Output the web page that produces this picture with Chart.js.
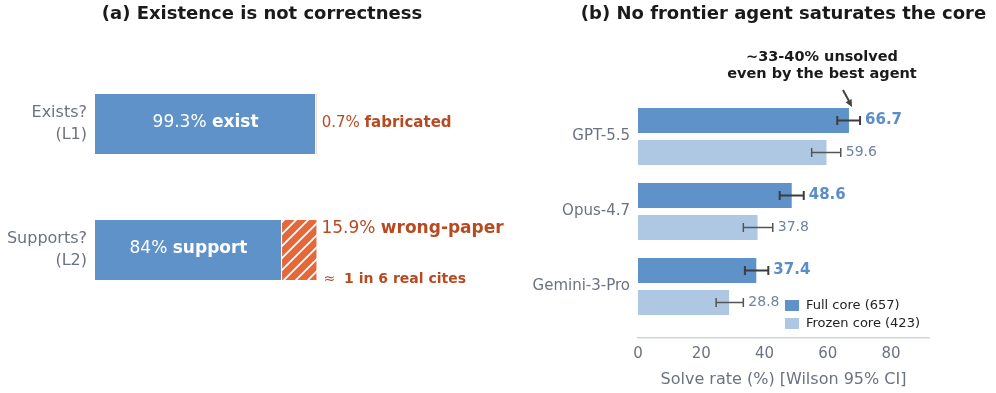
<!DOCTYPE html>
<html>
<head>
<meta charset="utf-8">
<script src="https://cdn.jsdelivr.net/npm/chart.js@4.4.1/dist/chart.umd.min.js"></script>
<style>
  html, body { margin: 0; padding: 0; background: #fff; }
  #left { position: absolute; left: 0; top: 0; width: 520px; height: 393px; }
  #right { position: absolute; left: 520px; top: 0; width: 476px; height: 393px; }
</style>
</head>
<body>
<div id="left"><canvas id="chartA"></canvas></div>
<div id="right"><canvas id="chartB"></canvas></div>
<script>
// panel (a)
const checkLabels = [['Exists?', '(L1)'], ['Supports?', '(L2)']];
const goodShare = [99.3, 84];
const badShare = [0.7, 15.9];
const goodWords = ['exist', 'support'];
const badWords = ['fabricated', 'wrong-paper'];

// panel (b)
const agents = ['GPT-5.5', 'Opus-4.7', 'Gemini-3-Pro'];
const fullRate = [66.7, 48.6, 37.4];
const fullLow = [63.0, 44.8, 33.8];
const fullHigh = [70.2, 52.4, 41.2];
const frozenRate = [59.6, 37.8, 28.8];
const frozenLow = [54.9, 33.3, 24.7];
const frozenHigh = [64.1, 42.6, 33.3];
const xTicks = [0, 20, 40, 60, 80];

const FONT = '"DejaVu Sans", Verdana, sans-serif';
const BLUE = '#5f92c8';
const LIGHT = '#aec8e4';
const ORANGE = '#e5683b';
const RUST = '#b84a22';
const GRAY = '#6b7280';

Chart.defaults.font.family = FONT;
Chart.defaults.color = GRAY;

function makeHatch(color) {
  const n = 12;
  const c = document.createElement('canvas');
  c.width = n; c.height = n;
  const g = c.getContext('2d');
  g.fillStyle = color;
  g.fillRect(0, 0, n, n);
  g.strokeStyle = '#fff';
  g.lineWidth = 1.7;
  g.beginPath();
  g.moveTo(-1, n + 1); g.lineTo(n + 1, -1);
  g.moveTo(-n / 2 - 1, n / 2 + 1); g.lineTo(n / 2 + 1, -n / 2 - 1);
  g.moveTo(n / 2 - 1, n * 1.5 + 1); g.lineTo(n * 1.5 + 1, n / 2 - 1);
  g.stroke();
  return g.createPattern(c, 'repeat');
}

// draw [text, bold] pieces one after another
function drawRuns(ctx, runs, x, y, size, color, align) {
  ctx.save();
  ctx.fillStyle = color;
  ctx.textBaseline = 'middle';
  ctx.textAlign = 'left';
  let total = 0;
  const widths = runs.map(r => {
    ctx.font = (r[1] ? 'bold ' : '') + size + 'px ' + FONT;
    const w = ctx.measureText(r[0]).width;
    total += w;
    return w;
  });
  let cx = align === 'center' ? x - total / 2 : x;
  runs.forEach((r, i) => {
    ctx.font = (r[1] ? 'bold ' : '') + size + 'px ' + FONT;
    ctx.fillText(r[0], cx, y);
    cx += widths[i];
  });
  ctx.restore();
}

// panel title centred over the axes, allowed to overflow them
const panelTitle = {
  id: 'panelTitle',
  afterDraw(chart, args, opts) {
    const a = chart.chartArea;
    drawRuns(chart.ctx, [[opts.text, true]], (a.left + a.right) / 2, 14.5, 18, '#1a1a1a', 'center');
  }
};

const labelsA = {
  id: 'labelsA',
  afterDatasetsDraw(chart) {
    const ctx = chart.ctx;
    const good = chart.getDatasetMeta(0).data;
    const bad = chart.getDatasetMeta(1).data;
    good.forEach((el, i) => {
      const mid = (el.base + el.x) / 2;
      drawRuns(ctx, [[goodShare[i] + '% ', false], [goodWords[i], true]], mid, el.y - 1, 17, '#fff', 'center');
    });
    const b0 = bad[0];
    drawRuns(ctx, [[badShare[0] + '% ', false], [badWords[0], true]], b0.x + 4, b0.y - 1, 15, RUST, 'left');
    const b1 = bad[1];
    const top = b1.y - b1.height / 2;
    const bottom = b1.y + b1.height / 2;
    drawRuns(ctx, [[badShare[1] + '% ', false], [badWords[1], true]], b1.x + 4, top + 10, 17, RUST, 'left');
    drawRuns(ctx, [['\u2248  ', false], ['1 in 6 real cites', true]], b1.x + 6, bottom - 2, 14, RUST, 'left');
  }
};

new Chart(document.getElementById('chartA'), {
  type: 'bar',
  data: {
    labels: checkLabels,
    datasets: [
      { data: goodShare, backgroundColor: BLUE, borderColor: '#fff', borderWidth: 1,
        barPercentage: 0.492, categoryPercentage: 1 },
      { data: badShare, backgroundColor: ['#f4cdbd', makeHatch(ORANGE)], borderColor: '#fff', borderWidth: 1,
        barPercentage: 0.492, categoryPercentage: 1 }
    ]
  },
  options: {
    indexAxis: 'y',
    responsive: true,
    maintainAspectRatio: false,
    animation: false,
    layout: { padding: { left: 0, right: 91, top: 61, bottom: 80 } },
    plugins: {
      legend: { display: false },
      tooltip: { enabled: false },
      panelTitle: { text: '(a) Existence is not correctness' }
    },
    scales: {
      x: { stacked: true, min: 0, max: 150, display: false },
      y: {
        stacked: true,
        grid: { display: false, drawTicks: false },
        border: { display: false },
        ticks: { padding: 8, color: GRAY, font: { size: 16, lineHeight: 1.4 } },
        afterFit(s) { s.width = 95; }
      }
    }
  },
  plugins: [labelsA, panelTitle]
});

const lows = [fullLow, frozenLow];
const highs = [fullHigh, frozenHigh];
const rates = [fullRate, frozenRate];

const extrasB = {
  id: 'extrasB',
  afterDatasetsDraw(chart) {
    const ctx = chart.ctx;
    const xs = chart.scales.x;
    const area = chart.chartArea;
    [0, 1].forEach(d => {
      chart.getDatasetMeta(d).data.forEach((el, i) => {
        const lo = xs.getPixelForValue(lows[d][i]);
        const hi = xs.getPixelForValue(highs[d][i]);
        ctx.save();
        ctx.strokeStyle = d === 0 ? '#3d3d3d' : '#555';
        ctx.lineWidth = d === 0 ? 2 : 1.5;
        ctx.beginPath();
        ctx.moveTo(lo, el.y); ctx.lineTo(hi, el.y);
        ctx.moveTo(lo, el.y - 4.5); ctx.lineTo(lo, el.y + 4.5);
        ctx.moveTo(hi, el.y - 4.5); ctx.lineTo(hi, el.y + 4.5);
        ctx.stroke();
        ctx.restore();
        const txt = rates[d][i].toFixed(1);
        if (d === 0) {
          drawRuns(ctx, [[txt, true]], hi + 5, el.y, 15, '#5b8dc9', 'left');
        } else {
          drawRuns(ctx, [[txt, false]], hi + 5, el.y, 14, '#7083a3', 'left');
        }
      });
    });

    // arrow + note on the best bar
    const best = chart.getDatasetMeta(0).data[0];
    const tipX = best.x + 3;
    const tipY = best.y - best.height / 2 - 1;
    const tailX = tipX - 9, tailY = tipY - 17;
    ctx.save();
    ctx.strokeStyle = '#444';
    ctx.fillStyle = '#444';
    ctx.lineWidth = 2;
    ctx.beginPath();
    ctx.moveTo(tailX, tailY);
    ctx.lineTo(tipX - 3, tipY - 6);
    ctx.stroke();
    const ang = Math.atan2(tipY - tailY, tipX - tailX);
    ctx.beginPath();
    ctx.moveTo(tipX, tipY);
    ctx.lineTo(tipX - 8 * Math.cos(ang - 0.45), tipY - 8 * Math.sin(ang - 0.45));
    ctx.lineTo(tipX - 8 * Math.cos(ang + 0.45), tipY - 8 * Math.sin(ang + 0.45));
    ctx.closePath();
    ctx.fill();
    ctx.restore();
    drawRuns(ctx, [['~33-40% unsolved', true]], tipX - 30, tailY - 33, 14.5, '#1a1a1a', 'center');
    drawRuns(ctx, [['even by the best agent', true]], tipX - 30, tailY - 16, 14.5, '#1a1a1a', 'center');

    // legend inside the axes
    const lx = area.right - 144;
    const ly = area.bottom - 38;
    chart.data.datasets.forEach((ds, k) => {
      ctx.save();
      ctx.fillStyle = ds.backgroundColor;
      ctx.fillRect(lx, ly + k * 18, 14, 11);
      ctx.restore();
      drawRuns(ctx, [[ds.label, false]], lx + 21, ly + k * 18 + 5.5, 13, '#222', 'left');
    });
  }
};

new Chart(document.getElementById('chartB'), {
  type: 'bar',
  data: {
    datasets: [
      { label: 'Full core (657)', data: fullRate.map((v, i) => ({ x: v, y: i })),
        backgroundColor: BLUE, barPercentage: 0.78, categoryPercentage: 0.853 },
      { label: 'Frozen core (423)', data: frozenRate.map((v, i) => ({ x: v, y: i })),
        backgroundColor: LIGHT, barPercentage: 0.78, categoryPercentage: 0.853 }
    ]
  },
  options: {
    indexAxis: 'y',
    responsive: true,
    maintainAspectRatio: false,
    animation: false,
    layout: { padding: { left: 0, right: 67, top: 99, bottom: 0 } },
    plugins: {
      legend: { display: false },
      tooltip: { enabled: false },
      panelTitle: { text: '(b) No frontier agent saturates the core' }
    },
    scales: {
      x: {
        type: 'linear', min: 0, max: 92,
        grid: { display: false, drawTicks: false },
        border: { display: true, color: '#cfd5dd', width: 1.5 },
        afterBuildTicks(s) { s.ticks = xTicks.map(v => ({ value: v })); },
        ticks: { padding: 7, color: GRAY, font: { size: 15 } },
        title: {
          display: true, text: 'Solve rate (%) [Wilson 95% CI]',
          color: GRAY, font: { size: 16 }, padding: { top: 0, bottom: 4 }
        },
        afterFit(s) { s.height = 55; }
      },
      y: {
        type: 'linear', reverse: true, min: -0.5, max: 2.687, offset: false,
        grid: { display: false, drawTicks: false },
        border: { display: false },
        ticks: {
          stepSize: 1, includeBounds: false, padding: 8, color: GRAY, font: { size: 15 },
          callback: v => agents[v] || ''
        },
        afterFit(s) { s.width = 118; }
      }
    }
  },
  plugins: [extrasB, panelTitle]
});
</script>
</body>
</html>
